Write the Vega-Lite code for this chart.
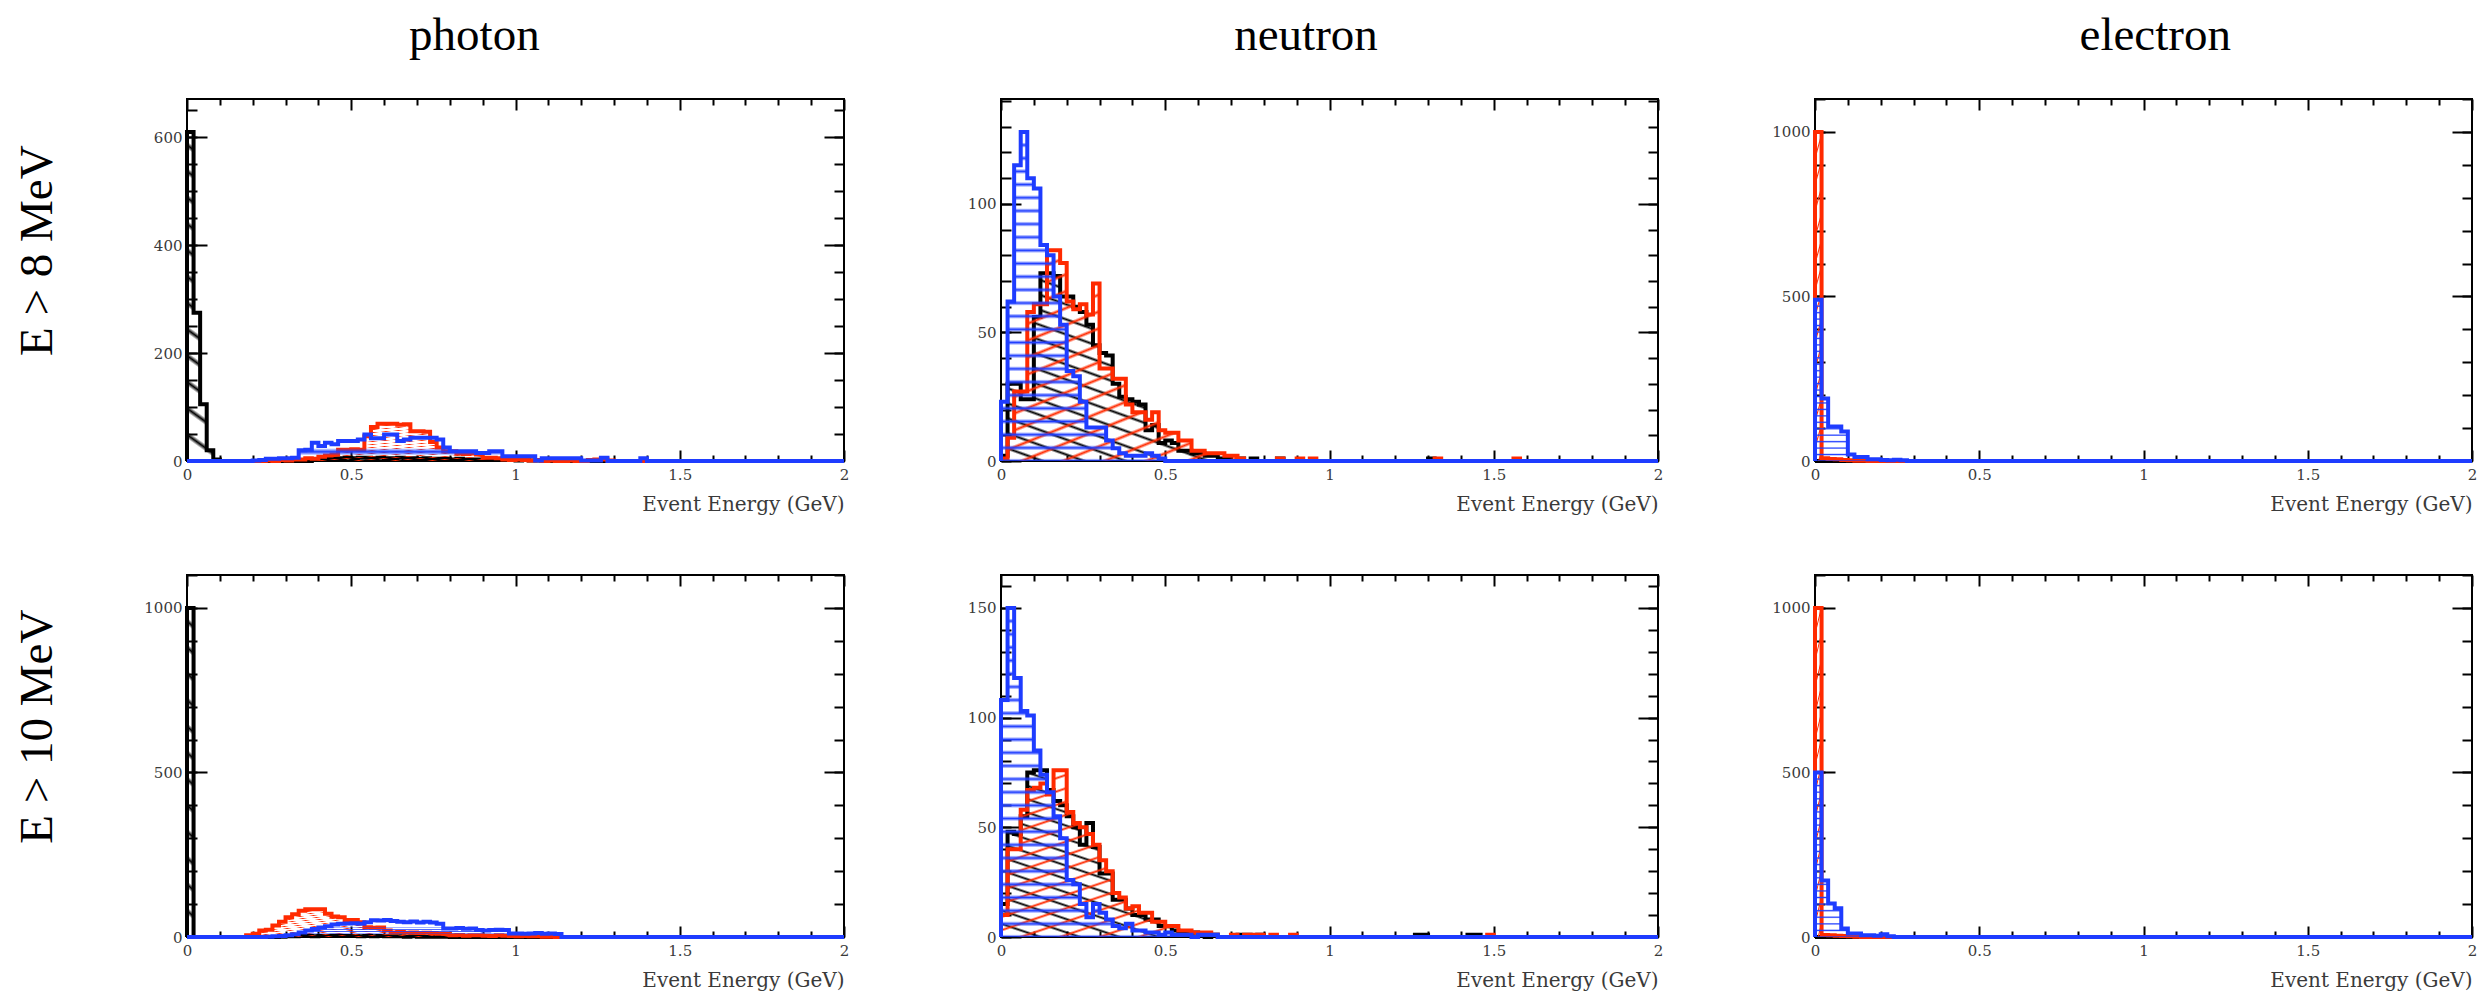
{
"$schema": "https://vega.github.io/schema/vega-lite/v6.json",
"background": "white",
"padding": {"left": 14, "top": 12, "right": 0, "bottom": 0},
"data": {"values": [
{"p":"photon","t":8,"x":0,"k":0,"r":0,"b":0},
{"p":"photon","t":8,"x":0,"k":610,"r":0,"b":0},
{"p":"photon","t":8,"x":0.02,"k":275,"r":0,"b":0},
{"p":"photon","t":8,"x":0.04,"k":105,"r":0,"b":0},
{"p":"photon","t":8,"x":0.06,"k":20,"r":0,"b":0},
{"p":"photon","t":8,"x":0.08,"k":3,"r":0,"b":0},
{"p":"photon","t":8,"x":0.1,"k":0,"r":0,"b":0},
{"p":"photon","t":8,"x":0.2,"k":0,"r":0,"b":1},
{"p":"photon","t":8,"x":0.22,"k":0,"r":0,"b":2},
{"p":"photon","t":8,"x":0.24,"k":0,"r":1,"b":4},
{"p":"photon","t":8,"x":0.26,"k":0,"r":0,"b":4},
{"p":"photon","t":8,"x":0.28,"k":0,"r":2,"b":5},
{"p":"photon","t":8,"x":0.3,"k":0,"r":1,"b":5},
{"p":"photon","t":8,"x":0.32,"k":0,"r":3,"b":6},
{"p":"photon","t":8,"x":0.34,"k":0,"r":3,"b":20},
{"p":"photon","t":8,"x":0.36,"k":0,"r":5,"b":21},
{"p":"photon","t":8,"x":0.38,"k":2,"r":4,"b":34},
{"p":"photon","t":8,"x":0.4,"k":3,"r":8,"b":28},
{"p":"photon","t":8,"x":0.42,"k":4,"r":10,"b":34},
{"p":"photon","t":8,"x":0.44,"k":5,"r":12,"b":31},
{"p":"photon","t":8,"x":0.46,"k":5,"r":21,"b":37},
{"p":"photon","t":8,"x":0.48,"k":6,"r":21,"b":37},
{"p":"photon","t":8,"x":0.5,"k":5,"r":22,"b":37},
{"p":"photon","t":8,"x":0.52,"k":6,"r":21,"b":40},
{"p":"photon","t":8,"x":0.54,"k":6,"r":46,"b":49},
{"p":"photon","t":8,"x":0.56,"k":5,"r":63,"b":42},
{"p":"photon","t":8,"x":0.58,"k":6,"r":69,"b":42},
{"p":"photon","t":8,"x":0.6,"k":5,"r":69,"b":49},
{"p":"photon","t":8,"x":0.62,"k":5,"r":69,"b":49},
{"p":"photon","t":8,"x":0.64,"k":6,"r":67,"b":37},
{"p":"photon","t":8,"x":0.66,"k":5,"r":68,"b":40},
{"p":"photon","t":8,"x":0.68,"k":5,"r":55,"b":43},
{"p":"photon","t":8,"x":0.7,"k":4,"r":55,"b":43},
{"p":"photon","t":8,"x":0.72,"k":5,"r":54,"b":43},
{"p":"photon","t":8,"x":0.74,"k":4,"r":35,"b":43},
{"p":"photon","t":8,"x":0.76,"k":4,"r":25,"b":40},
{"p":"photon","t":8,"x":0.78,"k":4,"r":18,"b":25},
{"p":"photon","t":8,"x":0.8,"k":3,"r":18,"b":18},
{"p":"photon","t":8,"x":0.82,"k":4,"r":14,"b":18},
{"p":"photon","t":8,"x":0.84,"k":3,"r":13,"b":18},
{"p":"photon","t":8,"x":0.86,"k":3,"r":14,"b":18},
{"p":"photon","t":8,"x":0.88,"k":3,"r":12,"b":15},
{"p":"photon","t":8,"x":0.9,"k":2,"r":6,"b":15},
{"p":"photon","t":8,"x":0.92,"k":3,"r":6,"b":18},
{"p":"photon","t":8,"x":0.94,"k":2,"r":5,"b":18},
{"p":"photon","t":8,"x":0.96,"k":2,"r":3,"b":9},
{"p":"photon","t":8,"x":0.98,"k":2,"r":2,"b":9},
{"p":"photon","t":8,"x":1,"k":1,"r":3,"b":9},
{"p":"photon","t":8,"x":1.02,"k":2,"r":2,"b":9},
{"p":"photon","t":8,"x":1.04,"k":1,"r":1,"b":9},
{"p":"photon","t":8,"x":1.06,"k":1,"r":2,"b":1},
{"p":"photon","t":8,"x":1.08,"k":0,"r":0,"b":5},
{"p":"photon","t":8,"x":1.1,"k":0,"r":1,"b":5},
{"p":"photon","t":8,"x":1.12,"k":0,"r":0,"b":5},
{"p":"photon","t":8,"x":1.14,"k":0,"r":0,"b":5},
{"p":"photon","t":8,"x":1.16,"k":0,"r":1,"b":5},
{"p":"photon","t":8,"x":1.18,"k":0,"r":0,"b":5},
{"p":"photon","t":8,"x":1.2,"k":0,"r":0,"b":1},
{"p":"photon","t":8,"x":1.22,"k":0,"r":2,"b":1},
{"p":"photon","t":8,"x":1.24,"k":0,"r":3,"b":1},
{"p":"photon","t":8,"x":1.26,"k":0,"r":3,"b":6},
{"p":"photon","t":8,"x":1.28,"k":0,"r":1,"b":0},
{"p":"photon","t":8,"x":1.3,"k":0,"r":0,"b":0},
{"p":"photon","t":8,"x":1.38,"k":0,"r":0,"b":5},
{"p":"photon","t":8,"x":1.4,"k":0,"r":0,"b":0},
{"p":"photon","t":8,"x":2,"k":0,"r":0,"b":0},

{"p":"photon","t":10,"x":0,"k":0,"r":0,"b":0},
{"p":"photon","t":10,"x":0,"k":1000,"r":0,"b":0},
{"p":"photon","t":10,"x":0.02,"k":0,"r":0,"b":0},
{"p":"photon","t":10,"x":0.18,"k":0,"r":5,"b":0},
{"p":"photon","t":10,"x":0.2,"k":0,"r":10,"b":0},
{"p":"photon","t":10,"x":0.22,"k":0,"r":20,"b":0},
{"p":"photon","t":10,"x":0.24,"k":0,"r":22,"b":1},
{"p":"photon","t":10,"x":0.26,"k":0,"r":35,"b":2},
{"p":"photon","t":10,"x":0.28,"k":1,"r":46,"b":3},
{"p":"photon","t":10,"x":0.3,"k":2,"r":60,"b":5},
{"p":"photon","t":10,"x":0.32,"k":2,"r":69,"b":8},
{"p":"photon","t":10,"x":0.34,"k":3,"r":80,"b":14},
{"p":"photon","t":10,"x":0.36,"k":3,"r":84,"b":20},
{"p":"photon","t":10,"x":0.38,"k":2,"r":84,"b":24},
{"p":"photon","t":10,"x":0.4,"k":3,"r":84,"b":29},
{"p":"photon","t":10,"x":0.42,"k":3,"r":71,"b":33},
{"p":"photon","t":10,"x":0.44,"k":4,"r":62,"b":38},
{"p":"photon","t":10,"x":0.46,"k":3,"r":60,"b":40},
{"p":"photon","t":10,"x":0.48,"k":3,"r":52,"b":41},
{"p":"photon","t":10,"x":0.5,"k":3,"r":52,"b":42},
{"p":"photon","t":10,"x":0.52,"k":2,"r":45,"b":40},
{"p":"photon","t":10,"x":0.54,"k":3,"r":30,"b":45},
{"p":"photon","t":10,"x":0.56,"k":2,"r":28,"b":51},
{"p":"photon","t":10,"x":0.58,"k":3,"r":29,"b":50},
{"p":"photon","t":10,"x":0.6,"k":2,"r":20,"b":52},
{"p":"photon","t":10,"x":0.62,"k":2,"r":14,"b":49},
{"p":"photon","t":10,"x":0.64,"k":2,"r":15,"b":46},
{"p":"photon","t":10,"x":0.66,"k":1,"r":13,"b":45},
{"p":"photon","t":10,"x":0.68,"k":2,"r":14,"b":47},
{"p":"photon","t":10,"x":0.7,"k":1,"r":12,"b":44},
{"p":"photon","t":10,"x":0.72,"k":1,"r":13,"b":46},
{"p":"photon","t":10,"x":0.74,"k":1,"r":12,"b":44},
{"p":"photon","t":10,"x":0.76,"k":1,"r":10,"b":40},
{"p":"photon","t":10,"x":0.78,"k":1,"r":9,"b":26},
{"p":"photon","t":10,"x":0.8,"k":0,"r":5,"b":26},
{"p":"photon","t":10,"x":0.82,"k":0,"r":6,"b":27},
{"p":"photon","t":10,"x":0.84,"k":0,"r":4,"b":25},
{"p":"photon","t":10,"x":0.86,"k":0,"r":5,"b":26},
{"p":"photon","t":10,"x":0.88,"k":0,"r":5,"b":21},
{"p":"photon","t":10,"x":0.9,"k":0,"r":4,"b":20},
{"p":"photon","t":10,"x":0.92,"k":0,"r":3,"b":21},
{"p":"photon","t":10,"x":0.94,"k":0,"r":5,"b":22},
{"p":"photon","t":10,"x":0.96,"k":0,"r":4,"b":21},
{"p":"photon","t":10,"x":0.98,"k":0,"r":3,"b":11},
{"p":"photon","t":10,"x":1,"k":0,"r":2,"b":11},
{"p":"photon","t":10,"x":1.02,"k":0,"r":3,"b":10},
{"p":"photon","t":10,"x":1.04,"k":0,"r":2,"b":11},
{"p":"photon","t":10,"x":1.06,"k":0,"r":2,"b":12},
{"p":"photon","t":10,"x":1.08,"k":0,"r":1,"b":10},
{"p":"photon","t":10,"x":1.1,"k":0,"r":1,"b":11},
{"p":"photon","t":10,"x":1.12,"k":0,"r":0,"b":9},
{"p":"photon","t":10,"x":1.14,"k":0,"r":0,"b":0},
{"p":"photon","t":10,"x":2,"k":0,"r":0,"b":0},

{"p":"neutron","t":8,"x":0,"k":0,"r":0,"b":0},
{"p":"neutron","t":8,"x":0,"k":2,"r":1,"b":23},
{"p":"neutron","t":8,"x":0.02,"k":30,"r":9,"b":62},
{"p":"neutron","t":8,"x":0.04,"k":30,"r":27,"b":115},
{"p":"neutron","t":8,"x":0.06,"k":24,"r":27,"b":128},
{"p":"neutron","t":8,"x":0.08,"k":24,"r":58,"b":110},
{"p":"neutron","t":8,"x":0.1,"k":56,"r":61,"b":106},
{"p":"neutron","t":8,"x":0.12,"k":73,"r":61,"b":84},
{"p":"neutron","t":8,"x":0.14,"k":73,"r":82,"b":80},
{"p":"neutron","t":8,"x":0.16,"k":72,"r":82,"b":64},
{"p":"neutron","t":8,"x":0.18,"k":64,"r":77,"b":53},
{"p":"neutron","t":8,"x":0.2,"k":64,"r":62,"b":35},
{"p":"neutron","t":8,"x":0.22,"k":60,"r":59,"b":33},
{"p":"neutron","t":8,"x":0.24,"k":58,"r":61,"b":23},
{"p":"neutron","t":8,"x":0.26,"k":53,"r":57,"b":13},
{"p":"neutron","t":8,"x":0.28,"k":45,"r":69,"b":13},
{"p":"neutron","t":8,"x":0.3,"k":42,"r":36,"b":13},
{"p":"neutron","t":8,"x":0.32,"k":41,"r":36,"b":8},
{"p":"neutron","t":8,"x":0.34,"k":30,"r":32,"b":5},
{"p":"neutron","t":8,"x":0.36,"k":25,"r":32,"b":3},
{"p":"neutron","t":8,"x":0.38,"k":24,"r":22,"b":2},
{"p":"neutron","t":8,"x":0.4,"k":23,"r":19,"b":2},
{"p":"neutron","t":8,"x":0.42,"k":22,"r":19,"b":2},
{"p":"neutron","t":8,"x":0.44,"k":12,"r":16,"b":3},
{"p":"neutron","t":8,"x":0.46,"k":14,"r":19,"b":2},
{"p":"neutron","t":8,"x":0.48,"k":7,"r":12,"b":1},
{"p":"neutron","t":8,"x":0.5,"k":8,"r":11,"b":0},
{"p":"neutron","t":8,"x":0.52,"k":7,"r":11,"b":0},
{"p":"neutron","t":8,"x":0.54,"k":4,"r":8,"b":0},
{"p":"neutron","t":8,"x":0.56,"k":4,"r":8,"b":0},
{"p":"neutron","t":8,"x":0.58,"k":3,"r":4,"b":0},
{"p":"neutron","t":8,"x":0.6,"k":3,"r":4,"b":0},
{"p":"neutron","t":8,"x":0.62,"k":2,"r":3,"b":0},
{"p":"neutron","t":8,"x":0.64,"k":2,"r":3,"b":0},
{"p":"neutron","t":8,"x":0.66,"k":1,"r":3,"b":0},
{"p":"neutron","t":8,"x":0.68,"k":1,"r":2,"b":0},
{"p":"neutron","t":8,"x":0.7,"k":0,"r":2,"b":0},
{"p":"neutron","t":8,"x":0.72,"k":1,"r":1,"b":0},
{"p":"neutron","t":8,"x":0.74,"k":0,"r":0,"b":0},
{"p":"neutron","t":8,"x":0.76,"k":1,"r":0,"b":0},
{"p":"neutron","t":8,"x":0.78,"k":0,"r":0,"b":0},
{"p":"neutron","t":8,"x":0.84,"k":1,"r":1,"b":0},
{"p":"neutron","t":8,"x":0.86,"k":0,"r":0,"b":0},
{"p":"neutron","t":8,"x":0.9,"k":0,"r":1,"b":0},
{"p":"neutron","t":8,"x":0.92,"k":0,"r":0,"b":0},
{"p":"neutron","t":8,"x":0.94,"k":0,"r":1,"b":0},
{"p":"neutron","t":8,"x":0.96,"k":0,"r":0,"b":0},
{"p":"neutron","t":8,"x":1.3,"k":1,"r":0,"b":0},
{"p":"neutron","t":8,"x":1.32,"k":0,"r":1,"b":0},
{"p":"neutron","t":8,"x":1.34,"k":0,"r":0,"b":0},
{"p":"neutron","t":8,"x":1.56,"k":0,"r":1,"b":0},
{"p":"neutron","t":8,"x":1.58,"k":0,"r":0,"b":0},
{"p":"neutron","t":8,"x":2,"k":0,"r":0,"b":0},

{"p":"neutron","t":10,"x":0,"k":0,"r":0,"b":0},
{"p":"neutron","t":10,"x":0,"k":15,"r":10,"b":108},
{"p":"neutron","t":10,"x":0.02,"k":48,"r":40,"b":150},
{"p":"neutron","t":10,"x":0.04,"k":47,"r":40,"b":118},
{"p":"neutron","t":10,"x":0.06,"k":55,"r":58,"b":103},
{"p":"neutron","t":10,"x":0.08,"k":75,"r":67,"b":101},
{"p":"neutron","t":10,"x":0.1,"k":76,"r":68,"b":85},
{"p":"neutron","t":10,"x":0.12,"k":76,"r":70,"b":74},
{"p":"neutron","t":10,"x":0.14,"k":67,"r":65,"b":66},
{"p":"neutron","t":10,"x":0.16,"k":62,"r":76,"b":55},
{"p":"neutron","t":10,"x":0.18,"k":60,"r":76,"b":45},
{"p":"neutron","t":10,"x":0.2,"k":55,"r":57,"b":26},
{"p":"neutron","t":10,"x":0.22,"k":50,"r":52,"b":24},
{"p":"neutron","t":10,"x":0.24,"k":42,"r":50,"b":15},
{"p":"neutron","t":10,"x":0.26,"k":52,"r":47,"b":9},
{"p":"neutron","t":10,"x":0.28,"k":41,"r":42,"b":15},
{"p":"neutron","t":10,"x":0.3,"k":29,"r":35,"b":11},
{"p":"neutron","t":10,"x":0.32,"k":29,"r":30,"b":8},
{"p":"neutron","t":10,"x":0.34,"k":17,"r":20,"b":5},
{"p":"neutron","t":10,"x":0.36,"k":17,"r":18,"b":4},
{"p":"neutron","t":10,"x":0.38,"k":13,"r":13,"b":6},
{"p":"neutron","t":10,"x":0.4,"k":10,"r":14,"b":3},
{"p":"neutron","t":10,"x":0.42,"k":10,"r":11,"b":3},
{"p":"neutron","t":10,"x":0.44,"k":8,"r":11,"b":2},
{"p":"neutron","t":10,"x":0.46,"k":8,"r":7,"b":2},
{"p":"neutron","t":10,"x":0.48,"k":5,"r":7,"b":1},
{"p":"neutron","t":10,"x":0.5,"k":5,"r":5,"b":2},
{"p":"neutron","t":10,"x":0.52,"k":3,"r":5,"b":1},
{"p":"neutron","t":10,"x":0.54,"k":2,"r":3,"b":1},
{"p":"neutron","t":10,"x":0.56,"k":2,"r":3,"b":1},
{"p":"neutron","t":10,"x":0.58,"k":2,"r":2,"b":0},
{"p":"neutron","t":10,"x":0.6,"k":1,"r":2,"b":1},
{"p":"neutron","t":10,"x":0.62,"k":0,"r":2,"b":1},
{"p":"neutron","t":10,"x":0.64,"k":1,"r":1,"b":1},
{"p":"neutron","t":10,"x":0.66,"k":0,"r":0,"b":0},
{"p":"neutron","t":10,"x":0.7,"k":0,"r":1,"b":0},
{"p":"neutron","t":10,"x":0.72,"k":1,"r":0,"b":0},
{"p":"neutron","t":10,"x":0.74,"k":1,"r":1,"b":0},
{"p":"neutron","t":10,"x":0.76,"k":0,"r":1,"b":0},
{"p":"neutron","t":10,"x":0.78,"k":1,"r":1,"b":0},
{"p":"neutron","t":10,"x":0.8,"k":0,"r":0,"b":0},
{"p":"neutron","t":10,"x":0.82,"k":0,"r":1,"b":0},
{"p":"neutron","t":10,"x":0.84,"k":0,"r":0,"b":0},
{"p":"neutron","t":10,"x":0.88,"k":0,"r":1,"b":0},
{"p":"neutron","t":10,"x":0.9,"k":0,"r":0,"b":0},
{"p":"neutron","t":10,"x":1.26,"k":1,"r":0,"b":0},
{"p":"neutron","t":10,"x":1.28,"k":1,"r":0,"b":0},
{"p":"neutron","t":10,"x":1.3,"k":0,"r":0,"b":0},
{"p":"neutron","t":10,"x":1.42,"k":1,"r":0,"b":0},
{"p":"neutron","t":10,"x":1.44,"k":1,"r":0,"b":0},
{"p":"neutron","t":10,"x":1.46,"k":0,"r":0,"b":0},
{"p":"neutron","t":10,"x":1.48,"k":0,"r":1,"b":0},
{"p":"neutron","t":10,"x":1.5,"k":0,"r":0,"b":0},
{"p":"neutron","t":10,"x":2,"k":0,"r":0,"b":0},

{"p":"electron","t":8,"x":0,"k":0,"r":0,"b":0},
{"p":"electron","t":8,"x":0,"k":0,"r":1000,"b":490},
{"p":"electron","t":8,"x":0.02,"k":0,"r":8,"b":190},
{"p":"electron","t":8,"x":0.04,"k":0,"r":6,"b":105},
{"p":"electron","t":8,"x":0.06,"k":0,"r":5,"b":105},
{"p":"electron","t":8,"x":0.08,"k":0,"r":3,"b":90},
{"p":"electron","t":8,"x":0.1,"k":0,"r":2,"b":20},
{"p":"electron","t":8,"x":0.12,"k":0,"r":1,"b":12},
{"p":"electron","t":8,"x":0.14,"k":0,"r":1,"b":12},
{"p":"electron","t":8,"x":0.16,"k":0,"r":0,"b":5},
{"p":"electron","t":8,"x":0.18,"k":0,"r":0,"b":5},
{"p":"electron","t":8,"x":0.2,"k":0,"r":0,"b":3},
{"p":"electron","t":8,"x":0.22,"k":0,"r":0,"b":2},
{"p":"electron","t":8,"x":0.24,"k":0,"r":0,"b":4},
{"p":"electron","t":8,"x":0.26,"k":0,"r":0,"b":2},
{"p":"electron","t":8,"x":0.28,"k":0,"r":0,"b":0},
{"p":"electron","t":8,"x":2,"k":0,"r":0,"b":0},

{"p":"electron","t":10,"x":0,"k":0,"r":0,"b":0},
{"p":"electron","t":10,"x":0,"k":0,"r":1000,"b":500},
{"p":"electron","t":10,"x":0.02,"k":0,"r":6,"b":172},
{"p":"electron","t":10,"x":0.04,"k":0,"r":5,"b":102},
{"p":"electron","t":10,"x":0.06,"k":0,"r":4,"b":87},
{"p":"electron","t":10,"x":0.08,"k":0,"r":3,"b":26},
{"p":"electron","t":10,"x":0.1,"k":0,"r":2,"b":11},
{"p":"electron","t":10,"x":0.12,"k":0,"r":1,"b":11},
{"p":"electron","t":10,"x":0.14,"k":0,"r":0,"b":5},
{"p":"electron","t":10,"x":0.16,"k":0,"r":0,"b":5},
{"p":"electron","t":10,"x":0.18,"k":0,"r":0,"b":4},
{"p":"electron","t":10,"x":0.2,"k":0,"r":0,"b":8},
{"p":"electron","t":10,"x":0.22,"k":0,"r":0,"b":2},
{"p":"electron","t":10,"x":0.24,"k":0,"r":0,"b":0},
{"p":"electron","t":10,"x":2,"k":0,"r":0,"b":0}
]},
"transform": [{"fold": ["k", "r", "b"], "as": ["s", "y"]}],
"facet": {
  "row": {"field": "t", "type": "ordinal", "sort": [8, 10], "title": null,
          "header": {"labelExpr": "'\u200b\u00a0\u00a0\u00a0\u00a0\u00a0E > ' + datum.value + ' MeV'", "labelAngle": -90, "labelPadding": 88, "labelBaseline": "alphabetic"}},
  "column": {"field": "p", "type": "nominal", "sort": ["photon", "neutron", "electron"], "title": null,
             "header": {"labelExpr": "datum.value == 'photon' ? 'photon\u00a0\u00a0\u00a0\u00a0\u00a0\u00a0\u00a0\u200b' : datum.value == 'neutron' ? 'neutron\u00a0\u00a0\u00a0\u00a0\u200b' : '\u200b\u00a0\u00a0electron'", "labelPadding": 2, "labelBaseline": "alphabetic"}}
},
"spacing": {"row": 114, "column": 157},
"bounds": "flush",
"resolve": {"scale": {"y": "independent"}, "axis": {"x": "independent", "y": "independent"}},
"spec": {
  "width": 657,
  "height": 362,
  "resolve": {"axis": {"x": "independent", "y": "independent"}},
  "layer": [
    {
      "transform": [{"filter": "datum.s == 'k' && datum.x < 2"}],
      "mark": {"type": "area", "interpolate": "step-after", "fill": {"gradient": "linear", "x1": 1, "y1": 0, "x2": 0, "y2": 1, "stops": [
        {"offset":0,"color":"#000"},{"offset":0.006,"color":"rgba(0,0,0,0)"},{"offset":0.034,"color":"rgba(0,0,0,0)"},
        {"offset":0.04,"color":"#000"},{"offset":0.046,"color":"rgba(0,0,0,0)"},{"offset":0.074,"color":"rgba(0,0,0,0)"},
        {"offset":0.08,"color":"#000"},{"offset":0.086,"color":"rgba(0,0,0,0)"},{"offset":0.114,"color":"rgba(0,0,0,0)"},
        {"offset":0.12,"color":"#000"},{"offset":0.126,"color":"rgba(0,0,0,0)"},{"offset":0.154,"color":"rgba(0,0,0,0)"},
        {"offset":0.16,"color":"#000"},{"offset":0.166,"color":"rgba(0,0,0,0)"},{"offset":0.194,"color":"rgba(0,0,0,0)"},
        {"offset":0.2,"color":"#000"},{"offset":0.206,"color":"rgba(0,0,0,0)"},{"offset":0.234,"color":"rgba(0,0,0,0)"},
        {"offset":0.24,"color":"#000"},{"offset":0.246,"color":"rgba(0,0,0,0)"},{"offset":0.274,"color":"rgba(0,0,0,0)"},
        {"offset":0.28,"color":"#000"},{"offset":0.286,"color":"rgba(0,0,0,0)"},{"offset":0.314,"color":"rgba(0,0,0,0)"},
        {"offset":0.32,"color":"#000"},{"offset":0.326,"color":"rgba(0,0,0,0)"},{"offset":0.354,"color":"rgba(0,0,0,0)"},
        {"offset":0.36,"color":"#000"},{"offset":0.366,"color":"rgba(0,0,0,0)"},{"offset":0.394,"color":"rgba(0,0,0,0)"},
        {"offset":0.4,"color":"#000"},{"offset":0.406,"color":"rgba(0,0,0,0)"},{"offset":0.434,"color":"rgba(0,0,0,0)"},
        {"offset":0.44,"color":"#000"},{"offset":0.446,"color":"rgba(0,0,0,0)"},{"offset":0.474,"color":"rgba(0,0,0,0)"},
        {"offset":0.48,"color":"#000"},{"offset":0.486,"color":"rgba(0,0,0,0)"},{"offset":0.514,"color":"rgba(0,0,0,0)"},
        {"offset":0.52,"color":"#000"},{"offset":0.526,"color":"rgba(0,0,0,0)"},{"offset":0.554,"color":"rgba(0,0,0,0)"},
        {"offset":0.56,"color":"#000"},{"offset":0.566,"color":"rgba(0,0,0,0)"},{"offset":0.594,"color":"rgba(0,0,0,0)"},
        {"offset":0.6,"color":"#000"},{"offset":0.606,"color":"rgba(0,0,0,0)"},{"offset":0.634,"color":"rgba(0,0,0,0)"},
        {"offset":0.64,"color":"#000"},{"offset":0.646,"color":"rgba(0,0,0,0)"},{"offset":0.674,"color":"rgba(0,0,0,0)"},
        {"offset":0.68,"color":"#000"},{"offset":0.686,"color":"rgba(0,0,0,0)"},{"offset":0.714,"color":"rgba(0,0,0,0)"},
        {"offset":0.72,"color":"#000"},{"offset":0.726,"color":"rgba(0,0,0,0)"},{"offset":0.754,"color":"rgba(0,0,0,0)"},
        {"offset":0.76,"color":"#000"},{"offset":0.766,"color":"rgba(0,0,0,0)"},{"offset":0.794,"color":"rgba(0,0,0,0)"},
        {"offset":0.8,"color":"#000"},{"offset":0.806,"color":"rgba(0,0,0,0)"},{"offset":0.834,"color":"rgba(0,0,0,0)"},
        {"offset":0.84,"color":"#000"},{"offset":0.846,"color":"rgba(0,0,0,0)"},{"offset":0.874,"color":"rgba(0,0,0,0)"},
        {"offset":0.88,"color":"#000"},{"offset":0.886,"color":"rgba(0,0,0,0)"},{"offset":0.914,"color":"rgba(0,0,0,0)"},
        {"offset":0.92,"color":"#000"},{"offset":0.926,"color":"rgba(0,0,0,0)"},{"offset":0.954,"color":"rgba(0,0,0,0)"},
        {"offset":0.96,"color":"#000"},{"offset":0.966,"color":"rgba(0,0,0,0)"},{"offset":0.994,"color":"rgba(0,0,0,0)"},
        {"offset":1,"color":"#000"}]}},
      "encoding": {
        "x": {"field": "x", "type": "quantitative", "scale": {"domain": [0, 2], "nice": false},
              "axis": {"orient": "bottom", "offset": -11, "tickSize": 11, "values": [0, 0.5, 1, 1.5, 2], "format": "~g", "labelPadding": 6, "labelFlush": false, "title": "Event Energy (GeV)", "titleAnchor": "end", "titleAlign": "right", "titlePadding": 12, "titleFontSize": 20}},
        "y": {"field": "y", "type": "quantitative", "scale": {"nice": false},
              "axis": {"orient": "left", "offset": -20, "tickSize": 20, "tickCount": 3, "format": "d", "labelPadding": 5, "title": null}},
        "order": {"value": null}
      }
    },
    {
      "transform": [{"filter": "datum.s == 'k'"}],
      "mark": {"type": "line", "interpolate": "step-after", "color": "#000", "strokeWidth": 4},
      "encoding": {
        "x": {"field": "x", "type": "quantitative", "scale": {"domain": [0, 2], "nice": false},
              "axis": {"orient": "bottom", "offset": -6, "tickSize": 6, "values": [0.1,0.2,0.3,0.4,0.6,0.7,0.8,0.9,1.1,1.2,1.3,1.4,1.6,1.7,1.8,1.9], "labels": false, "title": null}},
        "y": {"field": "y", "type": "quantitative", "scale": {"nice": false},
              "axis": {"orient": "left", "offset": -10, "tickSize": 10, "tickCount": 14, "labels": false, "title": null}},
        "order": {"value": null}
      }
    },
    {
      "transform": [{"filter": "datum.s == 'r' && datum.x < 2"}],
      "mark": {"type": "area", "interpolate": "step-after", "fill": {"gradient": "linear", "x1": 0, "y1": 0, "x2": 1, "y2": 1, "stops": [
        {"offset":0,"color":"#ff2a00"},{"offset":0.006,"color":"rgba(255,42,0,0)"},{"offset":0.034,"color":"rgba(255,42,0,0)"},
        {"offset":0.04,"color":"#ff2a00"},{"offset":0.046,"color":"rgba(255,42,0,0)"},{"offset":0.074,"color":"rgba(255,42,0,0)"},
        {"offset":0.08,"color":"#ff2a00"},{"offset":0.086,"color":"rgba(255,42,0,0)"},{"offset":0.114,"color":"rgba(255,42,0,0)"},
        {"offset":0.12,"color":"#ff2a00"},{"offset":0.126,"color":"rgba(255,42,0,0)"},{"offset":0.154,"color":"rgba(255,42,0,0)"},
        {"offset":0.16,"color":"#ff2a00"},{"offset":0.166,"color":"rgba(255,42,0,0)"},{"offset":0.194,"color":"rgba(255,42,0,0)"},
        {"offset":0.2,"color":"#ff2a00"},{"offset":0.206,"color":"rgba(255,42,0,0)"},{"offset":0.234,"color":"rgba(255,42,0,0)"},
        {"offset":0.24,"color":"#ff2a00"},{"offset":0.246,"color":"rgba(255,42,0,0)"},{"offset":0.274,"color":"rgba(255,42,0,0)"},
        {"offset":0.28,"color":"#ff2a00"},{"offset":0.286,"color":"rgba(255,42,0,0)"},{"offset":0.314,"color":"rgba(255,42,0,0)"},
        {"offset":0.32,"color":"#ff2a00"},{"offset":0.326,"color":"rgba(255,42,0,0)"},{"offset":0.354,"color":"rgba(255,42,0,0)"},
        {"offset":0.36,"color":"#ff2a00"},{"offset":0.366,"color":"rgba(255,42,0,0)"},{"offset":0.394,"color":"rgba(255,42,0,0)"},
        {"offset":0.4,"color":"#ff2a00"},{"offset":0.406,"color":"rgba(255,42,0,0)"},{"offset":0.434,"color":"rgba(255,42,0,0)"},
        {"offset":0.44,"color":"#ff2a00"},{"offset":0.446,"color":"rgba(255,42,0,0)"},{"offset":0.474,"color":"rgba(255,42,0,0)"},
        {"offset":0.48,"color":"#ff2a00"},{"offset":0.486,"color":"rgba(255,42,0,0)"},{"offset":0.514,"color":"rgba(255,42,0,0)"},
        {"offset":0.52,"color":"#ff2a00"},{"offset":0.526,"color":"rgba(255,42,0,0)"},{"offset":0.554,"color":"rgba(255,42,0,0)"},
        {"offset":0.56,"color":"#ff2a00"},{"offset":0.566,"color":"rgba(255,42,0,0)"},{"offset":0.594,"color":"rgba(255,42,0,0)"},
        {"offset":0.6,"color":"#ff2a00"},{"offset":0.606,"color":"rgba(255,42,0,0)"},{"offset":0.634,"color":"rgba(255,42,0,0)"},
        {"offset":0.64,"color":"#ff2a00"},{"offset":0.646,"color":"rgba(255,42,0,0)"},{"offset":0.674,"color":"rgba(255,42,0,0)"},
        {"offset":0.68,"color":"#ff2a00"},{"offset":0.686,"color":"rgba(255,42,0,0)"},{"offset":0.714,"color":"rgba(255,42,0,0)"},
        {"offset":0.72,"color":"#ff2a00"},{"offset":0.726,"color":"rgba(255,42,0,0)"},{"offset":0.754,"color":"rgba(255,42,0,0)"},
        {"offset":0.76,"color":"#ff2a00"},{"offset":0.766,"color":"rgba(255,42,0,0)"},{"offset":0.794,"color":"rgba(255,42,0,0)"},
        {"offset":0.8,"color":"#ff2a00"},{"offset":0.806,"color":"rgba(255,42,0,0)"},{"offset":0.834,"color":"rgba(255,42,0,0)"},
        {"offset":0.84,"color":"#ff2a00"},{"offset":0.846,"color":"rgba(255,42,0,0)"},{"offset":0.874,"color":"rgba(255,42,0,0)"},
        {"offset":0.88,"color":"#ff2a00"},{"offset":0.886,"color":"rgba(255,42,0,0)"},{"offset":0.914,"color":"rgba(255,42,0,0)"},
        {"offset":0.92,"color":"#ff2a00"},{"offset":0.926,"color":"rgba(255,42,0,0)"},{"offset":0.954,"color":"rgba(255,42,0,0)"},
        {"offset":0.96,"color":"#ff2a00"},{"offset":0.966,"color":"rgba(255,42,0,0)"},{"offset":0.994,"color":"rgba(255,42,0,0)"},
        {"offset":1,"color":"#ff2a00"}]}},
      "encoding": {
        "x": {"field": "x", "type": "quantitative", "scale": {"domain": [0, 2], "nice": false},
              "axis": {"orient": "top", "offset": -11, "tickSize": 11, "values": [0, 0.5, 1, 1.5, 2], "labels": false, "title": null}},
        "y": {"field": "y", "type": "quantitative", "scale": {"nice": false},
              "axis": {"orient": "right", "offset": -20, "tickSize": 20, "tickCount": 3, "labels": false, "title": null}},
        "order": {"value": null}
      }
    },
    {
      "transform": [{"filter": "datum.s == 'r'"}],
      "mark": {"type": "line", "interpolate": "step-after", "color": "#ff2a00", "strokeWidth": 4},
      "encoding": {
        "x": {"field": "x", "type": "quantitative", "scale": {"domain": [0, 2], "nice": false},
              "axis": {"orient": "top", "offset": -6, "tickSize": 6, "values": [0.1,0.2,0.3,0.4,0.6,0.7,0.8,0.9,1.1,1.2,1.3,1.4,1.6,1.7,1.8,1.9], "labels": false, "title": null}},
        "y": {"field": "y", "type": "quantitative", "scale": {"nice": false},
              "axis": {"orient": "right", "offset": -10, "tickSize": 10, "tickCount": 14, "labels": false, "title": null}},
        "order": {"value": null}
      }
    },
    {
      "transform": [{"filter": "datum.s == 'b' && datum.x < 2"}],
      "mark": {"type": "area", "interpolate": "step-after", "fill": {"gradient": "linear", "x1": 0, "y1": 0, "x2": 0, "y2": 1, "stops": [
        {"offset":0,"color":"#1e3cff"},{"offset":0.008,"color":"rgba(30,60,255,0)"},{"offset":0.032,"color":"rgba(30,60,255,0)"},
        {"offset":0.04,"color":"#1e3cff"},{"offset":0.048,"color":"rgba(30,60,255,0)"},{"offset":0.072,"color":"rgba(30,60,255,0)"},
        {"offset":0.08,"color":"#1e3cff"},{"offset":0.088,"color":"rgba(30,60,255,0)"},{"offset":0.112,"color":"rgba(30,60,255,0)"},
        {"offset":0.12,"color":"#1e3cff"},{"offset":0.128,"color":"rgba(30,60,255,0)"},{"offset":0.152,"color":"rgba(30,60,255,0)"},
        {"offset":0.16,"color":"#1e3cff"},{"offset":0.168,"color":"rgba(30,60,255,0)"},{"offset":0.192,"color":"rgba(30,60,255,0)"},
        {"offset":0.2,"color":"#1e3cff"},{"offset":0.208,"color":"rgba(30,60,255,0)"},{"offset":0.232,"color":"rgba(30,60,255,0)"},
        {"offset":0.24,"color":"#1e3cff"},{"offset":0.248,"color":"rgba(30,60,255,0)"},{"offset":0.272,"color":"rgba(30,60,255,0)"},
        {"offset":0.28,"color":"#1e3cff"},{"offset":0.288,"color":"rgba(30,60,255,0)"},{"offset":0.312,"color":"rgba(30,60,255,0)"},
        {"offset":0.32,"color":"#1e3cff"},{"offset":0.328,"color":"rgba(30,60,255,0)"},{"offset":0.352,"color":"rgba(30,60,255,0)"},
        {"offset":0.36,"color":"#1e3cff"},{"offset":0.368,"color":"rgba(30,60,255,0)"},{"offset":0.392,"color":"rgba(30,60,255,0)"},
        {"offset":0.4,"color":"#1e3cff"},{"offset":0.408,"color":"rgba(30,60,255,0)"},{"offset":0.432,"color":"rgba(30,60,255,0)"},
        {"offset":0.44,"color":"#1e3cff"},{"offset":0.448,"color":"rgba(30,60,255,0)"},{"offset":0.472,"color":"rgba(30,60,255,0)"},
        {"offset":0.48,"color":"#1e3cff"},{"offset":0.488,"color":"rgba(30,60,255,0)"},{"offset":0.512,"color":"rgba(30,60,255,0)"},
        {"offset":0.52,"color":"#1e3cff"},{"offset":0.528,"color":"rgba(30,60,255,0)"},{"offset":0.552,"color":"rgba(30,60,255,0)"},
        {"offset":0.56,"color":"#1e3cff"},{"offset":0.568,"color":"rgba(30,60,255,0)"},{"offset":0.592,"color":"rgba(30,60,255,0)"},
        {"offset":0.6,"color":"#1e3cff"},{"offset":0.608,"color":"rgba(30,60,255,0)"},{"offset":0.632,"color":"rgba(30,60,255,0)"},
        {"offset":0.64,"color":"#1e3cff"},{"offset":0.648,"color":"rgba(30,60,255,0)"},{"offset":0.672,"color":"rgba(30,60,255,0)"},
        {"offset":0.68,"color":"#1e3cff"},{"offset":0.688,"color":"rgba(30,60,255,0)"},{"offset":0.712,"color":"rgba(30,60,255,0)"},
        {"offset":0.72,"color":"#1e3cff"},{"offset":0.728,"color":"rgba(30,60,255,0)"},{"offset":0.752,"color":"rgba(30,60,255,0)"},
        {"offset":0.76,"color":"#1e3cff"},{"offset":0.768,"color":"rgba(30,60,255,0)"},{"offset":0.792,"color":"rgba(30,60,255,0)"},
        {"offset":0.8,"color":"#1e3cff"},{"offset":0.808,"color":"rgba(30,60,255,0)"},{"offset":0.832,"color":"rgba(30,60,255,0)"},
        {"offset":0.84,"color":"#1e3cff"},{"offset":0.848,"color":"rgba(30,60,255,0)"},{"offset":0.872,"color":"rgba(30,60,255,0)"},
        {"offset":0.88,"color":"#1e3cff"},{"offset":0.888,"color":"rgba(30,60,255,0)"},{"offset":0.912,"color":"rgba(30,60,255,0)"},
        {"offset":0.92,"color":"#1e3cff"},{"offset":0.928,"color":"rgba(30,60,255,0)"},{"offset":0.952,"color":"rgba(30,60,255,0)"},
        {"offset":0.96,"color":"#1e3cff"},{"offset":0.968,"color":"rgba(30,60,255,0)"},{"offset":0.992,"color":"rgba(30,60,255,0)"},
        {"offset":1,"color":"#1e3cff"}]}},
      "encoding": {
        "x": {"field": "x", "type": "quantitative", "scale": {"domain": [0, 2], "nice": false}, "axis": null},
        "y": {"field": "y", "type": "quantitative", "scale": {"nice": false}, "axis": null},
        "order": {"value": null}
      }
    },
    {
      "transform": [{"filter": "datum.s == 'b'"}],
      "mark": {"type": "line", "interpolate": "step-after", "color": "#1e3cff", "strokeWidth": 4},
      "encoding": {
        "x": {"field": "x", "type": "quantitative", "scale": {"domain": [0, 2], "nice": false}, "axis": null},
        "y": {"field": "y", "type": "quantitative", "scale": {"nice": false}, "axis": null},
        "order": {"value": null}
      }
    },
    {
      "transform": [
        {"joinaggregate": [{"op": "max", "field": "y", "as": "m"}], "groupby": ["p", "t"]},
        {"calculate": "datum.m * 1.1", "as": "top"}
      ],
      "mark": {"type": "point", "opacity": 0},
      "encoding": {
        "x": {"field": "x", "type": "quantitative", "scale": {"domain": [0, 2], "nice": false}, "axis": null},
        "y": {"field": "top", "type": "quantitative", "scale": {"nice": false}, "axis": null}
      }
    }
  ]
},
"config": {
  "view": {"stroke": "black", "strokeWidth": 2},
  "axis": {"domain": false, "grid": false, "tickColor": "black", "tickWidth": 2, "labelFont": "DejaVu Serif", "labelFontSize": 15, "labelColor": "#3a3a3a", "titleFont": "DejaVu Serif", "titleFontWeight": "normal", "titleColor": "#3a3a3a", "zindex": 1},
  "header": {"labelFont": "Liberation Serif", "labelFontSize": 47, "labelColor": "black"}
}
}
